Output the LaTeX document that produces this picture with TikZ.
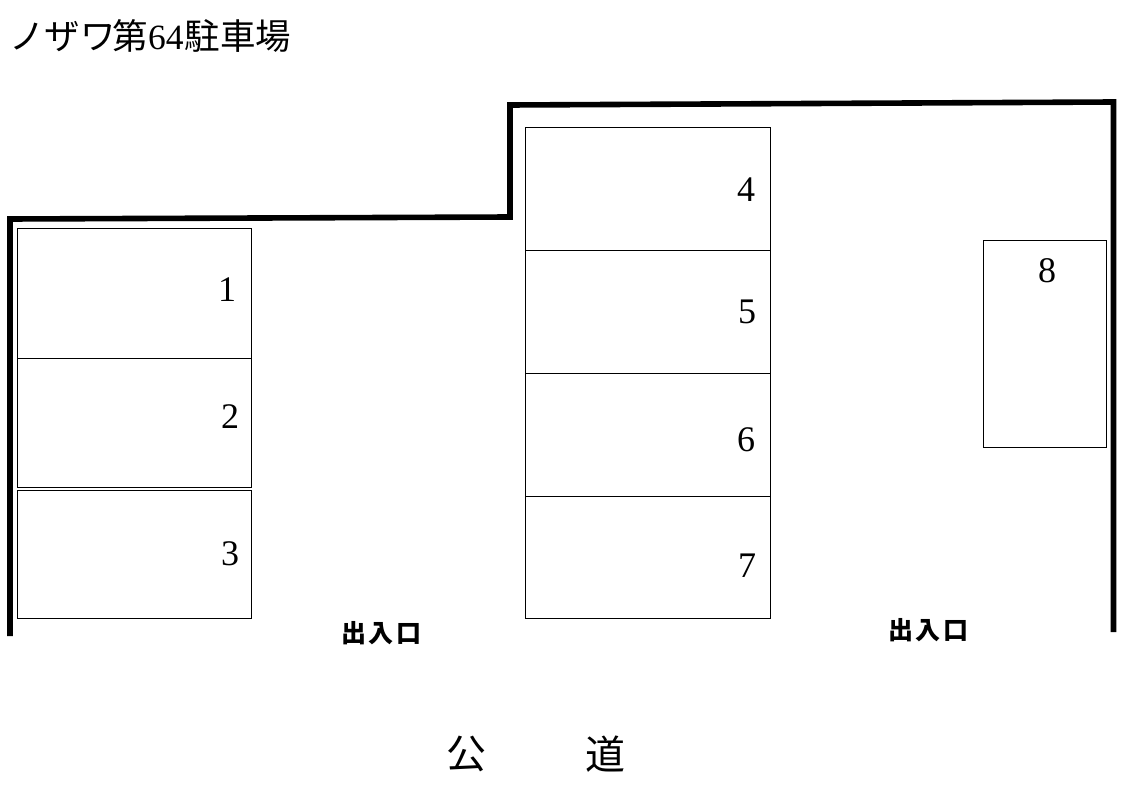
\documentclass[tikz,border=0pt]{standalone}
\usepackage{fontspec}
\setmainfont{Liberation Serif}
\newfontfamily\cjk{Noto Sans CJK JP}
\begin{document}
\begin{tikzpicture}[x=1pt,y=-1pt,
  wall/.style={line width=5.6pt,line join=miter,line cap=butt},
  lot/.style={draw=black,line width=1pt,inner sep=0pt,anchor=north west},
  num/.style={font=\fontsize{36}{40}\selectfont,inner sep=0pt},
  gate/.style={font=\cjk\bfseries\fontsize{25}{26}\selectfont,inner sep=0pt},
  road/.style={font=\cjk\fontsize{40}{40}\selectfont,inner sep=0pt}]
\useasboundingbox (0,0) rectangle (1123,794);
\fill[white] (0,0) rectangle (1123,794);
\coordinate (w1) at (10,636);\coordinate (w2) at (10,219);\coordinate (w3) at (510,217);\coordinate (w4) at (510,105);\coordinate (w5) at (1113.5,102);\coordinate (w6) at (1113.5,632);
\draw[wall] (w1)--(w2)--(w3)--(w4)--(w5)--(w6);
\node[lot,minimum width=234pt,minimum height=130pt] (s1) at (17.3,228.3) {};
\node[lot,minimum width=234pt,minimum height=128.8pt] (s2) at (17.3,358.3) {};
\node[lot,minimum width=234pt,minimum height=128.2pt] (s3) at (17.3,489.8) {};
\node[lot,minimum width=245pt,minimum height=123pt] (s4) at (525.3,127.3) {};
\node[lot,minimum width=245pt,minimum height=123pt] (s5) at (525.3,250.3) {};
\node[lot,minimum width=245pt,minimum height=123pt] (s6) at (525.3,373.3) {};
\node[lot,minimum width=245pt,minimum height=122pt] (s7) at (525.3,496.3) {};
\node[lot,minimum width=123pt,minimum height=207pt] (s8) at (983.3,240.3) {};
\node[num] (n1) at (227,290) {1};
\node[num] (n2) at (230,417) {2};
\node[num] (n3) at (230,554) {3};
\node[num] (n4) at (746,190) {4};
\node[num] (n5) at (747,312) {5};
\node[num] (n6) at (746,440) {6};
\node[num] (n7) at (747,566) {7};
\node[num] (n8) at (1047,271) {8};
\node[gate] (g1) at (381,633) {出\hspace{2.5pt}入\hspace{2.5pt}口};
\node[gate] (g2) at (928,630) {出\hspace{2.5pt}入\hspace{2.5pt}口};
\node[road] (r1) at (466,754) {公};
\node[road] (r2) at (605,754) {道};
\node[anchor=west,inner sep=0pt,font=\fontsize{35.5}{36}\selectfont] (t) at (9,36) {{\cjk ノザワ}\hspace{-3pt}{\cjk 第}64\hspace{1pt}{\cjk 駐車場}};
\end{tikzpicture}
\end{document}
